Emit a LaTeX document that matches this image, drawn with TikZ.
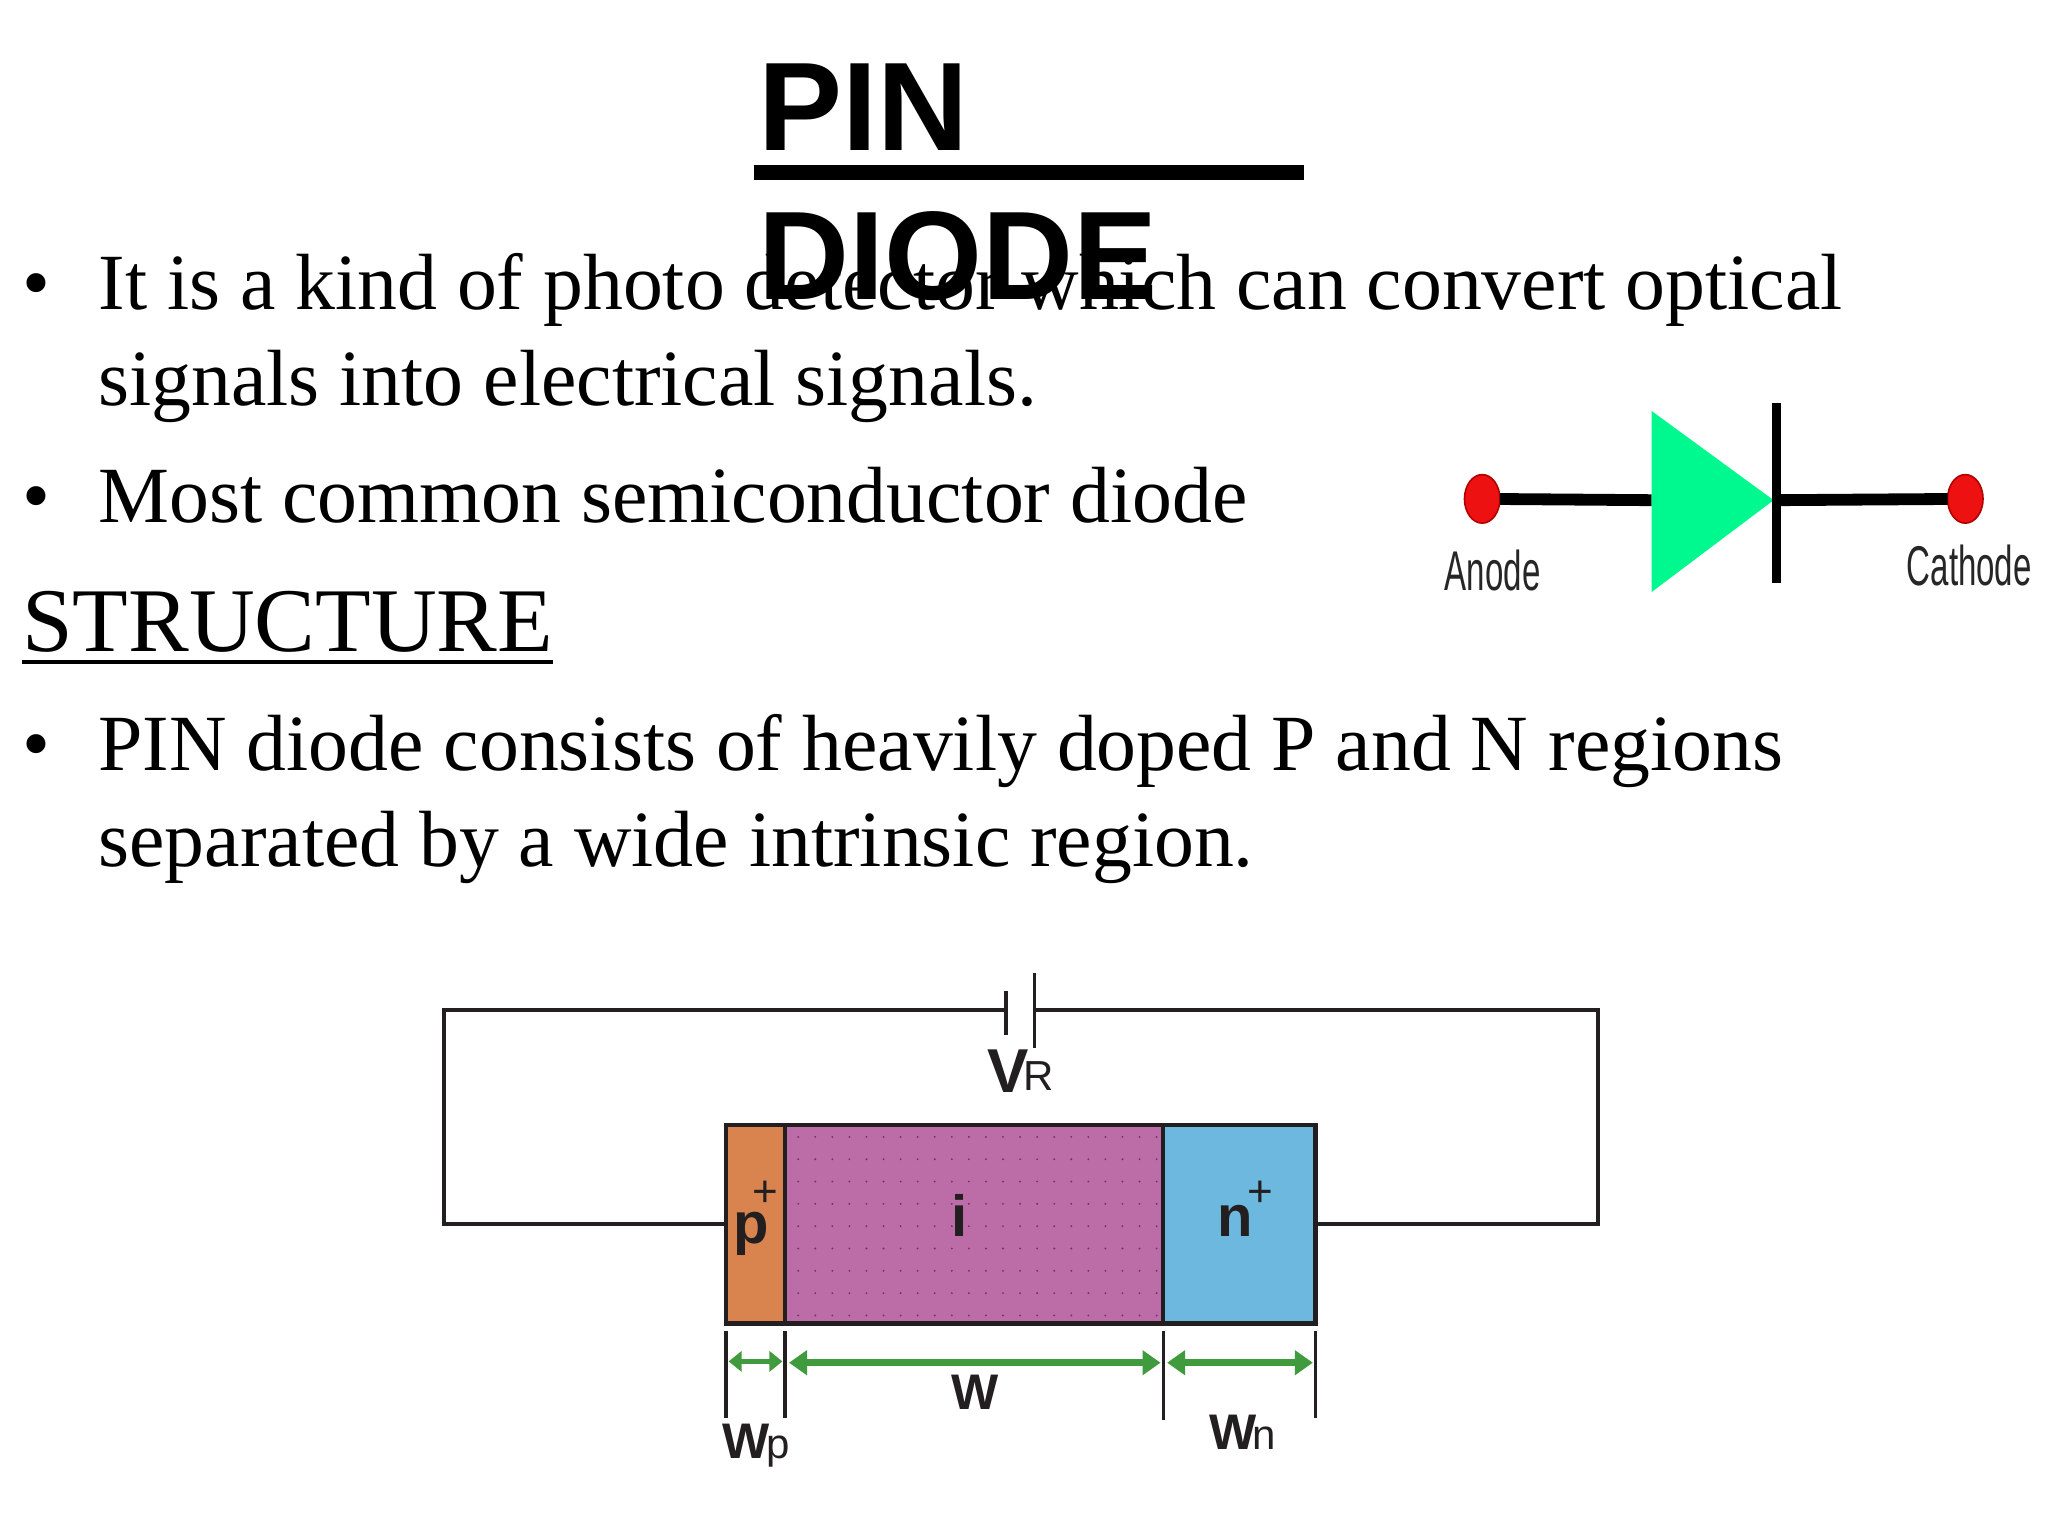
\documentclass[tikz,border=0pt]{standalone}
\usepackage{fontspec}
\usepackage{graphicx}
\setmainfont{Liberation Serif}
\setsansfont{Liberation Sans}
\usetikzlibrary{arrows.meta,shapes.geometric,calc}
\def\un{0.65641pt}
\definecolor{inkk}{HTML}{231F20}
\definecolor{pcol}{HTML}{D9844F}
\definecolor{icol}{HTML}{BC6CA7}
\definecolor{ncol}{HTML}{6CB8DF}
\definecolor{gr}{HTML}{3F9B3E}
\definecolor{mint}{HTML}{00F98F}
\definecolor{redd}{HTML}{EE1111}
\tikzset{
  txt/.style={anchor=base west,inner sep=0pt,outer sep=0pt},
  body/.style={txt,font=\fontsize{39.85}{44}\selectfont},
  head/.style={txt,font=\fontsize{45.5}{50}\selectfont},
  ttl/.style={txt,font=\fontsize{63}{70}\selectfont\sffamily\bfseries},
  wire/.style={inkk,line width=3*\un,line join=miter},
  region/.style={draw=inkk,line width=3.5*\un,inner sep=0pt,outer sep=0pt,minimum height=151*\un,anchor=north west},
  lab/.style={anchor=base,inner sep=0pt,outer sep=0pt,text=inkk,font=\fontsize{29}{32}\selectfont\sffamily\bfseries},
  tick/.style={inkk,line width=2.5*\un},
  dim/.style={gr,line width=5*\un,{Triangle[length=9pt,width=12pt]}-{Triangle[length=9pt,width=12pt]}},
  dims/.style={gr,line width=3.5*\un,{Triangle[length=6.5pt,width=10pt]}-{Triangle[length=6.5pt,width=10pt]}},
  term/.style={ellipse,draw=red!70!black,line width=0.8pt,fill=redd,inner sep=0pt,outer sep=0pt,minimum width=27*\un,minimum height=37*\un},
  lead/.style={black,line width=9*\un},
  dlab/.style={anchor=base,inner sep=0pt,outer sep=0pt,text=black!85,font=\fontsize{28}{30}\selectfont\sffamily},
}
\begin{document}
\begin{tikzpicture}[x=0.65641pt,y=-0.65641pt]
\useasboundingbox (0,0) rectangle (1560,1170);
\fill[white] (0,0) rectangle (1560,1170);
% body text
\node[body] (b1) at (17,236) {•};
\node[body] (t1) at (75,236) {It is a kind of photo detector which can convert optical};
\node[body] (t2) at (75,309) {signals into electrical signals.};
\node[body] (b2) at (17,398) {•};
\node[body] (t3) at (75,398) {Most common semiconductor diode};
\node[head] (t4) at (17,496) {STRUCTURE};
\draw[black,line width=3*\un] ($(t4.base west)+(0,8)$) -- ($(t4.base east)+(0,8)$);
\node[body] (b3) at (17,587) {•};
\node[body] (t5) at (75,587) {PIN diode consists of heavily doped P and N regions};
\node[body] (t6) at (75,660) {separated by a wide intrinsic region.};
% title
\node[ttl] (ti1) at (578,115) {PIN};
\node[ttl] (ti2) at (578,228) {DIODE};
\coordinate (ula) at (574,131.5);
\coordinate (ulb) at (993,131.5);
\draw[black,line width=11*\un] (ula) -- (ulb);
% diode symbol
\node[term] (an) at (1129,380) {};
\node[term] (ca) at (1497,380) {};
\coordinate (kt) at (1353,307);
\coordinate (kb) at (1353,444);
\coordinate (kc) at (1353,381);
\coordinate (tl) at (1258,381);
\draw[lead] (an) -- (tl);
\draw[lead] (kc) -- (ca);
\fill[mint] (1258,313) -- (1258,451) -- (1351,381) -- cycle;
\draw[black,line width=6.5*\un] (kt) -- (kb);
\node[dlab] (anl) at (1137,450) {\scalebox{0.59}[1]{Anode}};
\node[dlab] (cal) at (1500,446) {\scalebox{0.59}[1]{Cathode}};
% structure
\node[region,fill=pcol,minimum width=45*\un] (p) at (553,857) {};
\node[region,fill=icol,minimum width=288*\un] (i) at (598,857) {};
\node[region,fill=ncol,minimum width=116*\un] (n) at (886,857) {};
\foreach \r in {0,...,8}{
  \foreach \q in {0,...,21}{
    \fill[black!45!icol] ({608+\q*13},{866+\r*17}) circle (0.8);
  }
}
% circuit
\coordinate (pa) at (766,769);
\coordinate (pb) at (788,769);
\draw[wire] (p.west) -- ++(-215,0) |- (pa);
\draw[wire] (n.east) -- ++(215,0) |- (pb);
\draw[inkk,line width=3*\un] (766,755) -- (766,788);
\draw[inkk,line width=3*\un] (788,741) -- (788,798);
% labels
\node[lab,font=\fontsize{31}{34}\selectfont\sffamily\bfseries] (vv) at (768,832) {V};
\node[lab,font=\fontsize{21}{24}\selectfont\sffamily] (vr) at (791,831) {R};
\node[lab] (pl) at (572,947) {p};
\node[lab,anchor=center,font=\fontsize{22}{24}\selectfont\sffamily] (pp) at (583,909) {+};
\node[lab] (il) at (731,942) {i};
\node[lab] (nl) at (941,942) {n};
\node[lab,anchor=center,font=\fontsize{22}{24}\selectfont\sffamily] (np) at (960,909) {+};
% dimension lines
\coordinate (d1t) at (553,1014); \coordinate (d1b) at (553,1080);
\coordinate (d2t) at (598,1014); \coordinate (d2b) at (598,1080);
\coordinate (d3t) at (886,1014); \coordinate (d3b) at (886,1082);
\coordinate (d4t) at (1002,1014); \coordinate (d4b) at (1002,1080);
\draw[tick] (d1t) -- (d1b);
\draw[tick] (d2t) -- (d2b);
\draw[tick] (d3t) -- (d3b);
\draw[tick] (d4t) -- (d4b);
\coordinate (a1) at (555,1037); \coordinate (a2) at (596,1037);
\coordinate (a3) at (601,1038); \coordinate (a4) at (884,1038);
\coordinate (a5) at (889,1038); \coordinate (a6) at (1000,1038);
\draw[dims] (a1) -- (a2);
\draw[dim] (a3) -- (a4);
\draw[dim] (a5) -- (a6);
\node[lab,font=\fontsize{25}{28}\selectfont\sffamily\bfseries] (w) at (743,1074) {W};
\node[lab,font=\fontsize{25}{28}\selectfont\sffamily\bfseries] (wp) at (568,1111) {W};
\node[lab,font=\fontsize{21}{24}\selectfont\sffamily] (wps) at (593,1111) {p};
\node[lab,font=\fontsize{25}{28}\selectfont\sffamily\bfseries] (wn) at (939,1104) {W};
\node[lab,font=\fontsize{21}{24}\selectfont\sffamily] (wns) at (963,1104) {n};
\end{tikzpicture}
\end{document}
